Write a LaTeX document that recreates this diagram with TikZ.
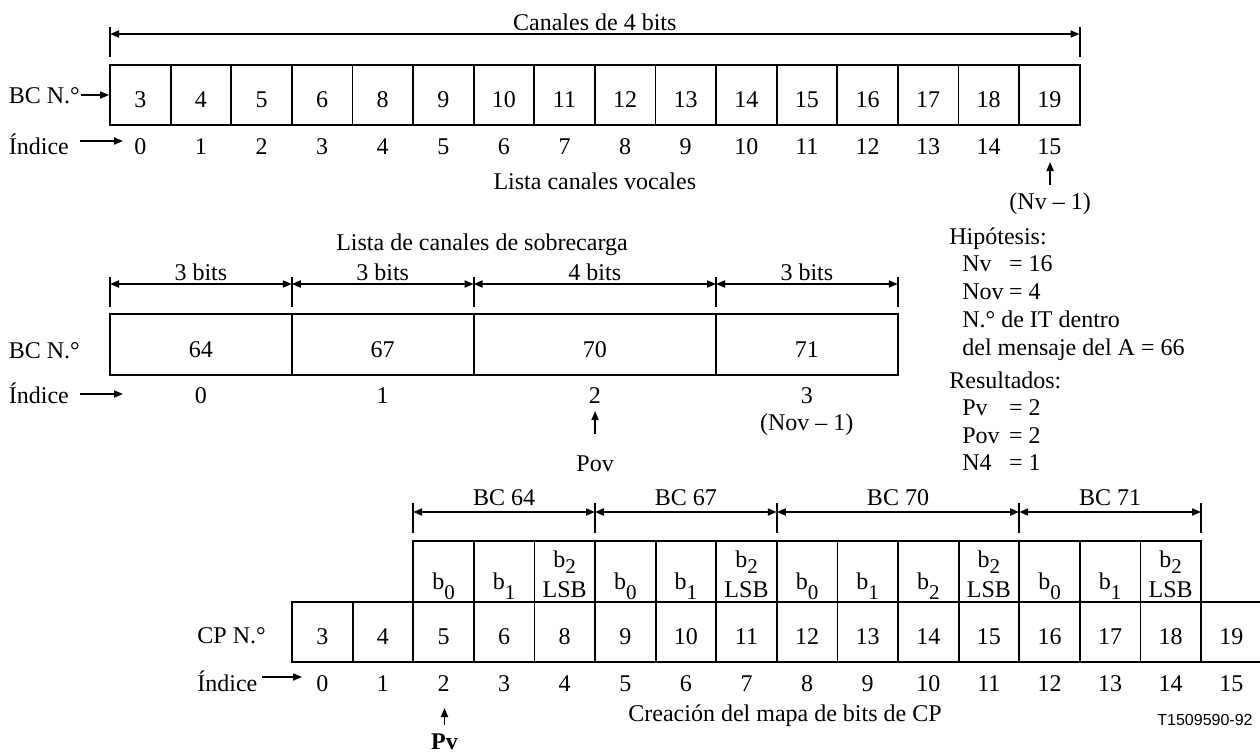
\documentclass[tikz,border=0pt]{standalone}
\usepackage{fontspec}
\setmainfont{Liberation Serif}
\newfontfamily\sansf{Liberation Sans}
\usetikzlibrary{arrows.meta}
\newcommand\bsub[2][5pt]{b\raisebox{-#1}{\fontsize{10.5}{10.5}\selectfont #2}}
\begin{document}
\begin{tikzpicture}[x=0.5pt,y=-0.5pt,
  font=\fontsize{12}{14}\selectfont,
  >={Triangle[length=4.5pt,width=3.5pt]},
  cell/.style={draw, line width=0.9pt, inner sep=0pt},
  txt/.style={inner sep=0pt, anchor=base},
  ltxt/.style={inner sep=0pt, anchor=base west},
  arr/.style={->, line width=0.9pt},
  dim/.style={<->, line width=0.9pt},
  tickline/.style={line width=1pt}]
\useasboundingbox (0,0) rectangle (1260,752);
\def\cw{60.6}
% ---------------- top: voice channel list
\foreach \v [count=\k from 0] in {3,4,5,6,8,9,10,11,12,13,14,15,16,17,18,19}{
  \pgfmathsetmacro\cx{110+\cw*(\k+0.5)}
  \node[cell, minimum width=30.3pt, minimum height=30pt] (vc\k) at (\cx,95) {};
  \node[txt] (vt\k) at (\cx,107) {\v};
  \node[txt] (vi\k) at (\cx,154) {\k};
}
\coordinate (tA1) at (110,27); \coordinate (tA2) at (110,57);
\coordinate (tB1) at (1079.6,27); \coordinate (tB2) at (1079.6,57);
\draw[tickline] (tA1) -- (tA2);
\draw[tickline] (tB1) -- (tB2);
\coordinate (dA) at (110,34); \coordinate (dB) at (1079.6,34);
\draw[dim] (dA) -- (dB);
\node[txt] (canales) at (594.8,30) {Canales de 4 bits};
\node[ltxt] (bcn1) at (8.5,103) {BC N.°};
\coordinate (bcn1a) at (81,95);
\draw[arr] (bcn1a) -- (vc0.west);
\node[ltxt] (ind1) at (8.5,154) {Índice};
\coordinate (ind1a) at (80,141); \coordinate (ind1b) at (123,141);
\draw[arr] (ind1a) -- (ind1b);
\node[txt] (lcv) at (594.8,189) {Lista canales vocales};
\node[txt] (nv1) at (1050.1,209) {(Nv – 1)};
\coordinate (nvt) at (1050.1,185); \coordinate (nvh) at (1050.1,162);
\draw[arr] (nvt) -- (nvh);
% ---------------- right text
\node[ltxt] (hip) at (949,244) {Hipótesis:};
\node[ltxt] (h1) at (962,271) {\makebox[1.95em][l]{Nv}= 16};
\node[ltxt] (h2) at (962,299) {\makebox[1.95em][l]{Nov}= 4};
\node[ltxt] (h3) at (962,327) {N.° de IT dentro};
\node[ltxt] (h4) at (962,355) {del mensaje del A = 66};
\node[ltxt] (res) at (949,388) {Resultados:};
\node[ltxt] (r1) at (962,415) {\makebox[1.95em][l]{Pv}= 2};
\node[ltxt] (r2) at (962,443) {\makebox[1.95em][l]{Pov}= 2};
\node[ltxt] (r3) at (962,470) {\makebox[1.95em][l]{N4}= 1};
% ---------------- middle: overload channel list
\node[txt] (lcs) at (482,250) {Lista de canales de sobrecarga};
\foreach \a/\b/\v/\i/\n in {0/3/64/0/a,3/6/67/1/b,6/10/70/2/c,10/13/71/3/d}{
  \pgfmathsetmacro\xa{110+\cw*\a}
  \pgfmathsetmacro\xb{110+\cw*\b}
  \pgfmathsetmacro\cx{(\xa+\xb)/2}
  \pgfmathsetmacro\cellw{(\xb-\xa)*0.5}
  \pgfmathtruncatemacro\nb{\b-\a}
  \node[cell, minimum width=\cellw pt, minimum height=30.5pt] (oc\n) at (\cx,344.5) {};
  \node[txt] (ot\n) at (\cx,357) {\v};
  \node[txt] (oi\n) at (\cx,403) {\i};
  \node[txt] (ob\n) at (\cx,280) {\nb\ bits};
  \coordinate (ol\n) at (\xa,284); \coordinate (or\n) at (\xb,284);
  \draw[dim] (ol\n) -- (or\n);
}
\foreach \a in {0,3,6,10,13}{
  \pgfmathsetmacro\xa{110+\cw*\a}
  \draw[tickline] (\xa,277) -- (\xa,307);
}
\node[ltxt] (bcn2) at (8.5,358) {BC N.°};
\node[ltxt] (ind2) at (8.5,403) {Índice};
\coordinate (ind2a) at (80,394); \coordinate (ind2b) at (123,394);
\draw[arr] (ind2a) -- (ind2b);
\coordinate (povt) at (595.1,434); \coordinate (povh) at (595.1,411);
\draw[arr] (povt) -- (povh);
\node[txt] (pov) at (595.1,471) {Pov};
\node[txt] (nov1) at (806.7,430) {(Nov – 1)};
% ---------------- bottom: CP bit map
\foreach \v [count=\k from 0] in {3,4,5,6,8,9,10,11,12,13,14,15,16,17,18,19}{
  \pgfmathsetmacro\cx{292+\cw*(\k+0.5)}
  \node[cell, minimum width=30.3pt, minimum height=30pt] (cc\k) at (\cx,632) {};
  \node[txt] (ct\k) at (\cx,644) {\v};
  \node[txt] (ci\k) at (\cx,691) {\k};
}
\foreach \k/\s/\l in {2/0/0,3/1/0,4/2/1,5/0/0,6/1/0,7/2/1,8/0/0,9/1/0,10/2/0,11/2/1,12/0/0,13/1/0,14/2/1}{
  \pgfmathsetmacro\cx{292+\cw*(\k+0.5)}
  \node[cell, minimum width=30.3pt, minimum height=30.5pt] (bc\k) at (\cx,571.5) {};
  \ifnum\l=1
    \node[txt] (bb\k) at (\cx,567) {\bsub[3pt]{\s}};
    \node[txt] (bl\k) at (\cx,597) {LSB};
  \else
    \node[txt] (bb\k) at (\cx,589) {\bsub{\s}};
  \fi
}
\foreach \a/\b/\v/\n in {2/5/64/a,5/8/67/b,8/12/70/c,12/15/71/d}{
  \pgfmathsetmacro\xa{292+\cw*\a}
  \pgfmathsetmacro\xb{292+\cw*\b}
  \pgfmathsetmacro\cx{(\xa+\xb)/2}
  \node[txt] (bcl\n) at (\cx,505) {BC \v};
  \coordinate (bl\n) at (\xa,512); \coordinate (br\n) at (\xb,512);
  \draw[dim] (bl\n) -- (br\n);
}
\foreach \a in {2,5,8,12,15}{
  \pgfmathsetmacro\xa{292+\cw*\a}
  \draw[tickline] (\xa,503) -- (\xa,533);
}
\node[ltxt] (cpn) at (197,643) {CP N.°};
\node[ltxt] (ind3) at (197,691) {Índice};
\coordinate (ind3a) at (262,677); \coordinate (ind3b) at (302,677);
\draw[arr] (ind3a) -- (ind3b);
\coordinate (pvt) at (444.5,725); \coordinate (pvh) at (444.5,708);
\draw[arr] (pvt) -- (pvh);
\node[txt] (pv) at (444.5,749) {\textbf{Pv}};
\node[txt] (crea) at (785,721) {Creación del mapa de bits de CP};
\node[inner sep=0pt, anchor=base east] (ref) at (1253,725) {\sansf\fontsize{8}{9}\selectfont T1509590-92};
\end{tikzpicture}
\end{document}
